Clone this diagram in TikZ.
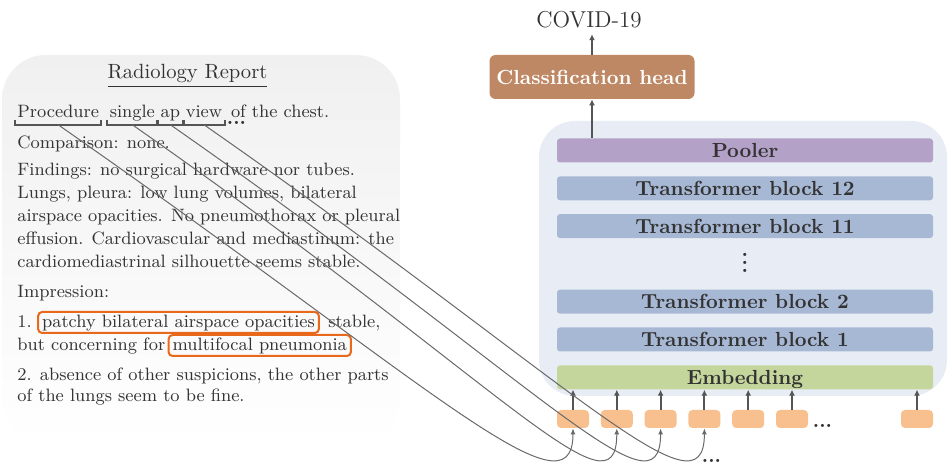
\documentclass[tikz,border=0pt]{standalone}
\usepackage{xcolor}
\usepackage{tikz}
\usetikzlibrary{arrows.meta, positioning}

\definecolor{reportbg}{RGB}{240,240,240}
\definecolor{encoderbg}{RGB}{232,237,245}
\definecolor{poolerfill}{RGB}{179,161,200}
\definecolor{blockfill}{RGB}{167,184,213}
\definecolor{embedfill}{RGB}{197,214,157}
\definecolor{tokenfill}{RGB}{249,192,143}
\definecolor{headfill}{RGB}{190,136,101}
\definecolor{markline}{RGB}{232,104,28}
\definecolor{arrowgray}{RGB}{85,85,85}
\definecolor{linkgray}{RGB}{105,105,105}

\begin{document}
\begin{tikzpicture}[x=0.5pt, y=-0.5pt, node distance=6.5pt,
    txt/.style={inner sep=0pt, anchor=base west, text=black!80, font=\fontsize{8.95}{11}\selectfont},
    word/.style={txt, inner xsep=1pt, text height=6.5pt, text depth=3.2pt},
    hilite/.style={txt, draw=markline, line width=1pt, rounded corners=2pt, inner xsep=2pt, inner ysep=1.3pt, text height=6.7pt, text depth=1.2pt},
    bracket/.style={draw=arrowgray, line width=1pt},
    layer/.style={rectangle, rounded corners=1.5pt, minimum width=188pt, minimum height=12pt, inner sep=0pt, text height=7pt, text depth=0pt, text=black!80, font=\fontsize{10.2}{12}\selectfont\bfseries},
    tokenbox/.style={rectangle, rounded corners=2pt, fill=tokenfill, minimum width=16pt, minimum height=9pt, inner sep=0pt},
    headbox/.style={rectangle, rounded corners=3pt, fill=headfill, minimum width=102.5pt, minimum height=22pt, inner sep=0pt, text=white, font=\fontsize{10.2}{12}\selectfont\bfseries},
    ellipsis/.style={inner sep=0pt, text=black!80, font=\fontsize{10}{12}\selectfont\bfseries},
    uparrow/.style={-{Latex[length=3pt, width=3pt]}, draw=arrowgray, line width=1pt},
    tokenlink/.style={-{Latex[length=3pt, width=2.5pt]}, draw=linkgray, line width=0.5pt}]
    \useasboundingbox (0,0) rectangle (950,465);

    % backgrounds
    \shade[top color=reportbg, middle color=reportbg!80, bottom color=white, rounded corners=22pt] (2,55) rectangle (400,445);
    \fill[encoderbg, rounded corners=18pt] (539,121) rectangle (947,396);

    % encoder
    \node[layer, fill=poolerfill] (pooler) at (745,150.5) {Pooler};
    \node[layer, fill=blockfill, below=of pooler] (tb12) {Transformer block 12};
    \node[layer, fill=blockfill, below=of tb12] (tb11) {Transformer block 11};
    \node[layer, text height=8.4pt, below=of tb11] (vdots) {$\vdots$};
    \node[layer, fill=blockfill, below=of vdots] (tb2) {Transformer block 2};
    \node[layer, fill=blockfill, below=of tb2] (tb1) {Transformer block 1};
    \node[layer, fill=embedfill, below=of tb1] (emb) {Embedding};

    \node[headbox] (head) at (592,77) {Classification head};
    \node[inner sep=3pt, text=black!80, font=\fontsize{11.5}{13}\selectfont] (covid) at (589,19.5) {COVID-19};
    \draw[uparrow] (head.south |- pooler.north) -- (head.south);
    \draw[uparrow] (head.north) -- (head.north |- covid.south);

    % tokens
    \node[tokenbox] (tok1) at (573,419) {};
    \foreach \i [count=\j] in {2,...,6}
        \node[tokenbox, right=5.5pt of tok\j] (tok\i) {};
    \node[tokenbox] (tok7) at (917,419) {};
    \node[ellipsis] (tokdots) at (822.5,426) {...};
    \node[ellipsis] (linkdots) at (711.5,461) {...};
    \foreach \i in {1,...,7}
        \draw[uparrow] (tok\i.north) -- (tok\i.north |- emb.south);

    % report
    \node[txt, anchor=base, font=\fontsize{10.3}{12}\selectfont] (title) at (187.5,79) {\underline{Radiology Report}};
    \node[word] (w1) at (15,118) {Procedure};
    \node[word, base right=3pt of w1] (w2) {single};
    \node[word, base right=0.5pt of w2] (w3) {ap};
    \node[word, base right=0.5pt of w3] (w4) {view};
    \node[txt, base right=3pt of w4] (chest) {of the chest.};
    \node[ellipsis] (worddots) at (236.5,122.5) {...};
    \foreach \w in {w1,w2,w3,w4}
        \draw[bracket] ([yshift=2.5pt]\w.south west) |- (\w.south east) -- ++(0,2.5pt);

    \node[txt] (comp) at (17,149) {Comparison: none.};
    \node[txt] (find1) at (17,176) {Findings: no surgical hardware nor tubes.};
    \node[txt] (find2) at (17,199) {Lungs, pleura: low lung volumes, bilateral};
    \node[txt] (find3) at (17,222) {airspace opacities. No pneumothorax or pleural};
    \node[txt] (find4) at (17,245) {effusion. Cardiovascular and mediastinum: the};
    \node[txt] (find5) at (17,268) {cardiomediastrinal silhouette seems stable.};
    \node[txt] (imp) at (17,298) {Impression:};
    \node[txt] (imp1) at (17,328) {1.};
    \node[hilite, base right=2.5pt of imp1] (hl1) {patchy bilateral airspace opacities};
    \node[txt, base right=4pt of hl1] (imp1b) {stable,};
    \node[txt] (imp2) at (17,351) {but concerning for};
    \node[hilite, base right=1pt of imp2] (hl2) {multifocal pneumonia};
    \node[txt] (imp3) at (17,380) {2. absence of other suspicions, the other parts};
    \node[txt] (imp4) at (17,402) {of the lungs seem to be fine.};

    % words to tokens
    \foreach \w/\t in {w1/tok1, w2/tok2, w3/tok3, w4/tok4}
        \draw[tokenlink] (\w.south) .. controls +(370,258) and +(0,95) .. (\t.south);
\end{tikzpicture}
\end{document}
